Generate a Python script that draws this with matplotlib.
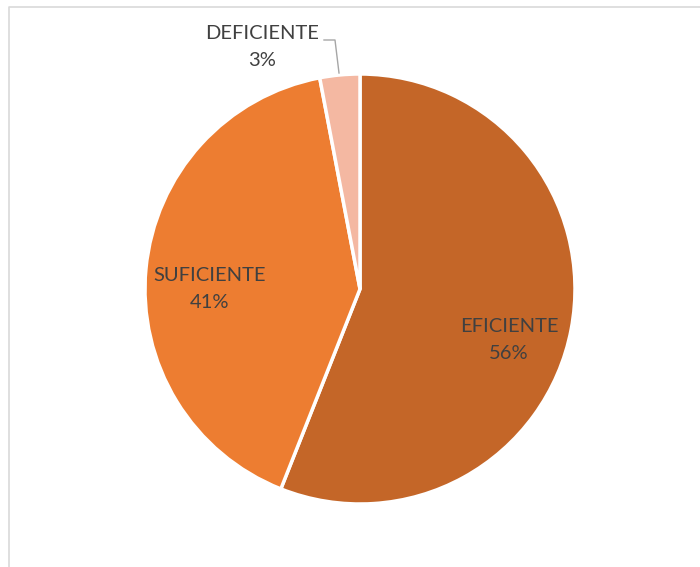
import matplotlib.pyplot as plt

categories = ['EFICIENTE', 'SUFICIENTE', 'DEFICIENTE']
values = [56, 41, 3]
colors = ['#C46628', '#ED7D31', '#F4B8A2']

# label centres in pixel coords (x, y from top)
label_pos = [(509, 340), (210, 289), (262, 47)]

W, H = 700, 567
fig = plt.figure(figsize=(7, 5.67), dpi=100)
ax = fig.add_axes([0, 0, 1, 1])

ax.pie(values, colors=colors, startangle=90, counterclock=False,
       center=(360, H - 289), radius=215,
       wedgeprops=dict(edgecolor='white', linewidth=2.5))

# chart border (only top and left visible)
ax.plot([9, 9, W], [0, H - 7, H - 7], color='#d9d9d9', lw=1.2)

total = sum(values)
for cat, v, (x, y) in zip(categories, values, label_pos):
    ax.text(x, H - y, f'{cat}\n{round(100 * v / total)}%', ha='center', va='center',
            fontsize=14.5, color='#404040', family='Lato', linespacing=1.75)

# leader line for the small slice
ax.plot([324, 335, 339], [H - 40, H - 40, H - 73], color='#a6a6a6', lw=1)

ax.set_xlim(0, W)
ax.set_ylim(0, H)
ax.set_aspect('equal')
ax.axis('off')

fig.savefig('out.png', dpi=100)
